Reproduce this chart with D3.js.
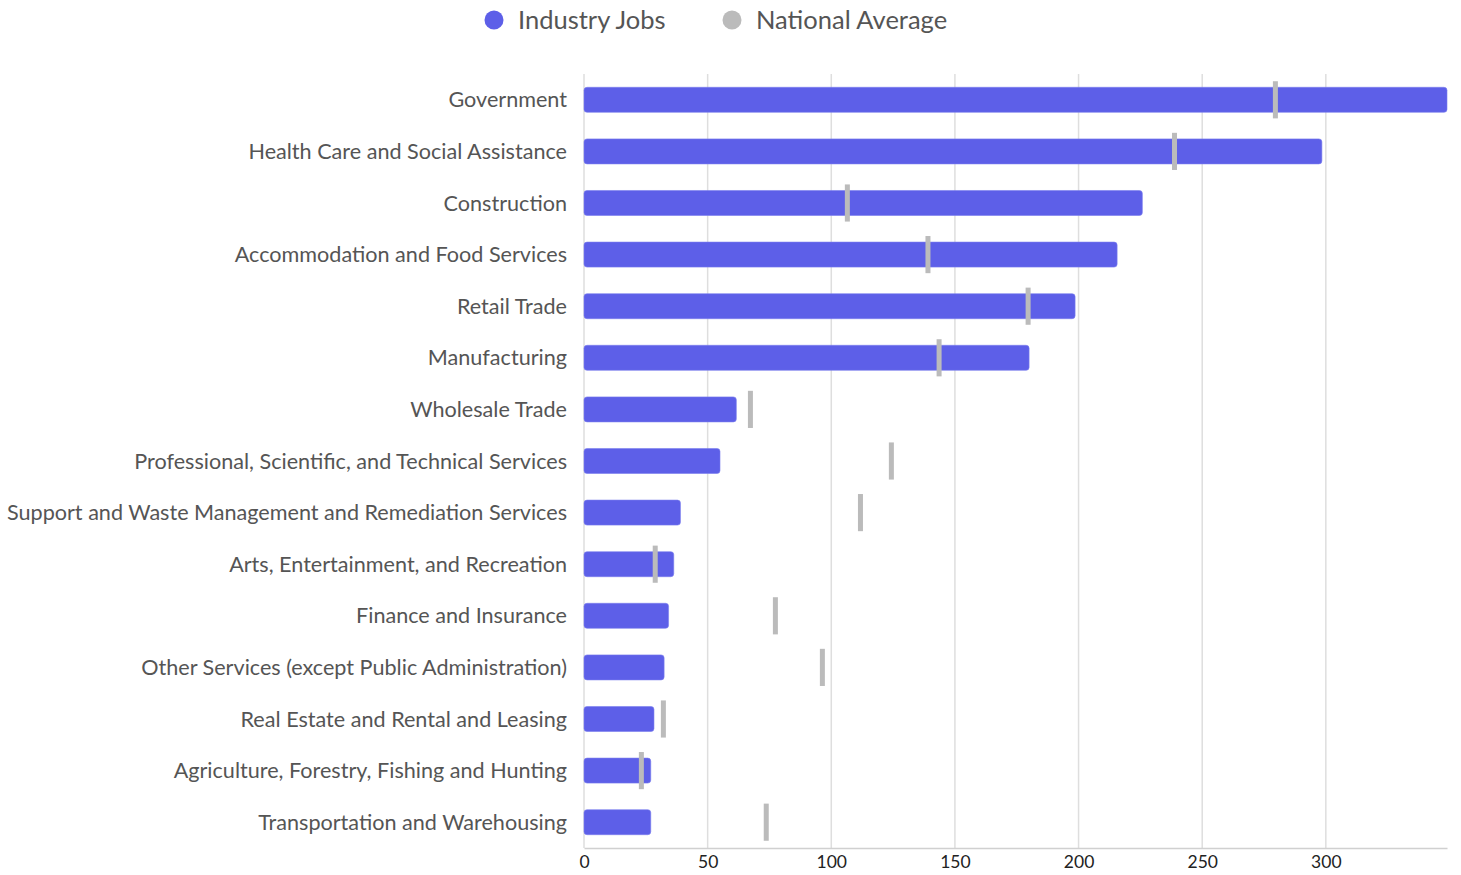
<!DOCTYPE html>
<html><head><meta charset="utf-8">
<script src="https://cdn.jsdelivr.net/npm/d3@7"></script>
<style>body{margin:0;background:#fff;font-family:Lato,sans-serif}</style>
</head><body><svg id="c" width="1461" height="875"></svg>
<script>
const categories = ["Government","Health Care and Social Assistance","Construction","Accommodation and Food Services","Retail Trade","Manufacturing","Wholesale Trade","Professional, Scientific, and Technical Services","Support and Waste Management and Remediation Services","Arts, Entertainment, and Recreation","Finance and Insurance","Other Services (except Public Administration)","Real Estate and Rental and Leasing","Agriculture, Forestry, Fishing and Hunting","Transportation and Warehousing"];
const industryJobs = [349, 298.4, 225.8, 215.6, 198.6, 180, 61.6, 55, 39, 36.3, 34.2, 32.4, 28.3, 27, 27];
const nationalAverage = [279.6, 238.8, 106.5, 139.1, 179.6, 143.6, 67.3, 124.3, 111.8, 28.8, 77.4, 96.4, 32.1, 23.2, 73.7];
const xTicks = [0, 50, 100, 150, 200, 250, 300];
const seriesNames = ["Industry Jobs", "National Average"];

const svg = d3.select("#c");
const m = {left: 584, right: 1447, top: 74, bottom: 848};
const x = d3.scaleLinear().domain([0, d3.max(industryJobs)]).range([m.left, m.right]);
const y = d3.scaleBand().domain(categories).range([m.top, m.bottom]).padding(0);
const barH = y.bandwidth() * 0.485, markH = y.bandwidth() * 0.72;

// grid
svg.append("g").selectAll("line").data(xTicks).join("line")
  .attr("x1", d => x(d)).attr("x2", d => x(d)).attr("y1", m.top).attr("y2", m.bottom)
  .attr("stroke", "#dedede").attr("stroke-width", 1.5);

// axis
const ax = svg.append("g").attr("transform", `translate(0,${m.bottom})`)
  .call(d3.axisBottom(x).tickValues(xTicks).tickSize(0).tickPadding(8));
ax.select(".domain").attr("stroke", "#d0d0d0").attr("stroke-width", 1.5);
ax.selectAll("text").attr("font-family", "Lato").attr("font-size", 17.5).attr("fill", "#222");

// bars
svg.append("g").selectAll("rect").data(categories).join("rect")
  .attr("x", x(0)).attr("y", (d) => y(d) + (y.bandwidth() - barH) / 2)
  .attr("width", (d, i) => x(industryJobs[i]) - x(0)).attr("height", barH)
  .attr("rx", 3).attr("fill", "#5d5fe8").attr("stroke", "#7b7def").attr("stroke-width", 0.6);

// national average markers
svg.append("g").selectAll("rect").data(categories).join("rect")
  .attr("x", (d, i) => x(nationalAverage[i]) - 2.5).attr("y", d => y(d) + (y.bandwidth() - markH) / 2)
  .attr("width", 5).attr("height", markH).attr("fill", "#bbbbbb");

// category labels
svg.append("g").selectAll("text").data(categories).join("text")
  .attr("x", m.left - 17).attr("y", d => y(d) + y.bandwidth() / 2).attr("dy", "0.35em")
  .attr("text-anchor", "end").attr("font-family", "Lato").attr("font-size", 21.6).attr("fill", "#555")
  .text(d => d);

// legend
const legX = [494, 732], colors = ["#5d5fe8", "#bbbbbb"];
const lg = svg.append("g").selectAll("g").data(seriesNames).join("g");
lg.append("circle").attr("cx", (d, i) => legX[i]).attr("cy", 20).attr("r", 9.5).attr("fill", (d, i) => colors[i]);
lg.append("text").attr("x", (d, i) => legX[i] + 24).attr("y", 20).attr("dy", "0.35em")
  .attr("font-family", "Lato").attr("font-size", 25.5).attr("fill", "#555").text(d => d);
</script></body></html>
